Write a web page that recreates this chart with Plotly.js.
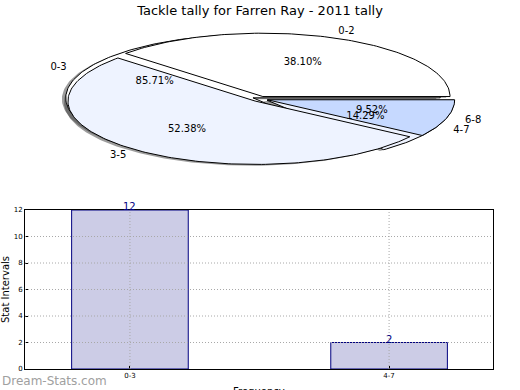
<!DOCTYPE html>
<html>
<head>
<meta charset="utf-8">
<script src="https://cdn.plot.ly/plotly-3.0.1.min.js"></script>
<style>html,body{margin:0;padding:0;background:#fff;}#chart{width:520px;height:390px;}</style>
</head>
<body>
<div id="chart"></div>
<script>
// ---- data ----
const chartTitle = 'Tackle tally for Farren Ray - 2011 tally';
const pie1Labels = ['0-3', '4-7'];
const pie1Values = [12, 2];
const pie2Labels = ['0-2', '3-5', '6-8'];
const pie2Values = [8, 11, 2];
const barCategories = ['0-3', '4-7'];
const barValues = [12, 2];
const yTicks = [0, 2, 4, 6, 8, 10, 12];

// ---- styles ----
const FONT = 'DejaVu Sans';
const pie1Colors = ['#ffffff', '#eef3ff'];
const pie2Colors = ['#ffffff', '#eef3ff', '#c6d9ff'];
const R = 0.96, EXPLODE = 0.04;
const GRID = {color: '#a8a8a8', width: 1, dash: '1px,2px'};

function wedges(values, colors) {
  const total = values.reduce((a, b) => a + b, 0);
  let cum = 0;
  return values.map((v, i) => {
    const a0 = cum / total * 2 * Math.PI;
    cum += v;
    const a1 = cum / total * 2 * Math.PI;
    const mid = (a0 + a1) / 2;
    const cx = EXPLODE * Math.cos(mid), cy = EXPLODE * Math.sin(mid);
    const xs = [cx], ys = [cy];
    const n = Math.max(4, Math.ceil((a1 - a0) / 0.02));
    for (let k = 0; k <= n; k++) {
      const a = a0 + (a1 - a0) * k / n;
      xs.push(cx + R * Math.cos(a));
      ys.push(cy + R * Math.sin(a));
    }
    xs.push(cx); ys.push(cy);
    return {xs, ys, mid, pct: v / total * 100, color: colors[i % colors.length]};
  });
}

const w1 = wedges(pie1Values, pie1Colors);
const w2 = wedges(pie2Values, pie2Colors);
const traces = [];

// shadows (all below wedges)
[w1, w2].forEach(ws => ws.forEach(w => {
  traces.push({type: 'scatter', mode: 'lines', xaxis: 'x2', yaxis: 'y2',
    x: w.xs.map(x => x - 0.02), y: w.ys.map(y => y - 0.02),
    fill: 'toself', fillcolor: 'rgba(60,60,60,0.5)', line: {width: 0},
    hoverinfo: 'skip', showlegend: false});
}));
// wedges
[w1, w2].forEach(ws => ws.forEach(w => {
  traces.push({type: 'scatter', mode: 'lines', xaxis: 'x2', yaxis: 'y2',
    x: w.xs, y: w.ys, fill: 'toself', fillcolor: w.color,
    line: {color: '#000000', width: 1}, hoverinfo: 'skip', showlegend: false});
}));
// labels
[[w1, pie1Labels], [w2, pie2Labels]].forEach(([ws, labs]) => {
  ws.forEach((w, i) => {
    const c = Math.cos(w.mid), s = Math.sin(w.mid);
    traces.push({type: 'scatter', mode: 'text', xaxis: 'x2', yaxis: 'y2',
      x: [1.1 * c], y: [1.1 * s], text: [labs[i]],
      textposition: c >= 0 ? 'middle right' : 'middle left',
      textfont: {family: FONT, size: 10, color: '#000'}, hoverinfo: 'skip', showlegend: false});
    traces.push({type: 'scatter', mode: 'text', xaxis: 'x2', yaxis: 'y2',
      x: [0.6 * c], y: [0.6 * s], text: [w.pct.toFixed(2) + '%'],
      textposition: 'middle center',
      textfont: {family: FONT, size: 10, color: '#000'}, hoverinfo: 'skip', showlegend: false});
  });
});

// bars
traces.push({type: 'bar', x: barCategories, y: barValues, width: 0.45,
  marker: {color: 'rgb(204,204,230)', line: {color: '#000080', width: 1}},
  hoverinfo: 'skip', showlegend: false});

const shapes = [];
yTicks.slice(1, -1).forEach(t => shapes.push({type: 'line', xref: 'x domain', yref: 'y',
  x0: 0, x1: 1, y0: t, y1: t, layer: 'above', line: GRID}));
barCategories.forEach((c, i) => shapes.push({type: 'line', xref: 'x', yref: 'y domain',
  x0: i, x1: i, y0: 0, y1: 1, layer: 'above', line: GRID}));

const annotations = [
  {text: 'Stat Intervals', xref: 'paper', yref: 'paper', x: 5 / 520, y: 100 / 390, textangle: -90,
    showarrow: false, xanchor: 'center', yanchor: 'middle', font: {family: FONT, size: 10, color: '#000'}},
  {text: 'Frequency', xref: 'paper', yref: 'paper', x: 259 / 520, y: 6 / 390,
    showarrow: false, xanchor: 'center', yanchor: 'top', font: {family: FONT, size: 10, color: '#000'}},
  {text: 'Dream-Stats.com', xref: 'paper', yref: 'paper', x: 0, y: 9 / 390,
    showarrow: false, xanchor: 'left', yanchor: 'middle', font: {family: FONT, size: 12, color: '#a0a0a0'}}
];
barCategories.forEach((c, i) => annotations.push({text: String(barValues[i]), xref: 'x', yref: 'y',
  x: c, y: barValues[i], showarrow: false, xanchor: 'center', yanchor: 'bottom', yshift: -4,
  font: {family: FONT, size: 10, color: '#000080'}}));

const layout = {
  width: 520, height: 390,
  margin: {l: 0, r: 0, t: 0, b: 0},
  paper_bgcolor: '#fff', plot_bgcolor: 'rgba(0,0,0,0)',
  font: {family: FONT, color: '#000'},
  title: {text: chartTitle, x: 0.5, xanchor: 'center', y: 1 - 10 / 390, yanchor: 'middle',
    font: {family: FONT, size: 13, color: '#000'}},
  xaxis2: {domain: [0, 1], anchor: 'y2', range: [-260 / 195, 260 / 195], visible: false, fixedrange: true},
  yaxis2: {domain: [0.5, 1], anchor: 'x2', range: [1.5 - 195 / 66, 1.5], visible: false, fixedrange: true},
  xaxis: {domain: [25 / 520, 493 / 520], anchor: 'y', type: 'category', range: [-0.405, 1.401],
    showgrid: false, zeroline: false, showline: true, mirror: true, linecolor: '#000', linewidth: 1,
    ticks: 'inside', ticklen: 3, tickcolor: '#000', tickfont: {family: FONT, size: 7, color: '#000'}},
  yaxis: {domain: [21 / 390, 180 / 390], anchor: 'x', range: [0, 12], tickvals: yTicks,
    showgrid: false, zeroline: false, showline: true, mirror: true, linecolor: '#000', linewidth: 1,
    ticks: 'inside', ticklen: 3, tickcolor: '#000', tickfont: {family: FONT, size: 7, color: '#000'}},
  shapes: shapes,
  annotations: annotations
};

Plotly.newPlot('chart', traces, layout, {staticPlot: true, displayModeBar: false});
</script>
</body>
</html>
